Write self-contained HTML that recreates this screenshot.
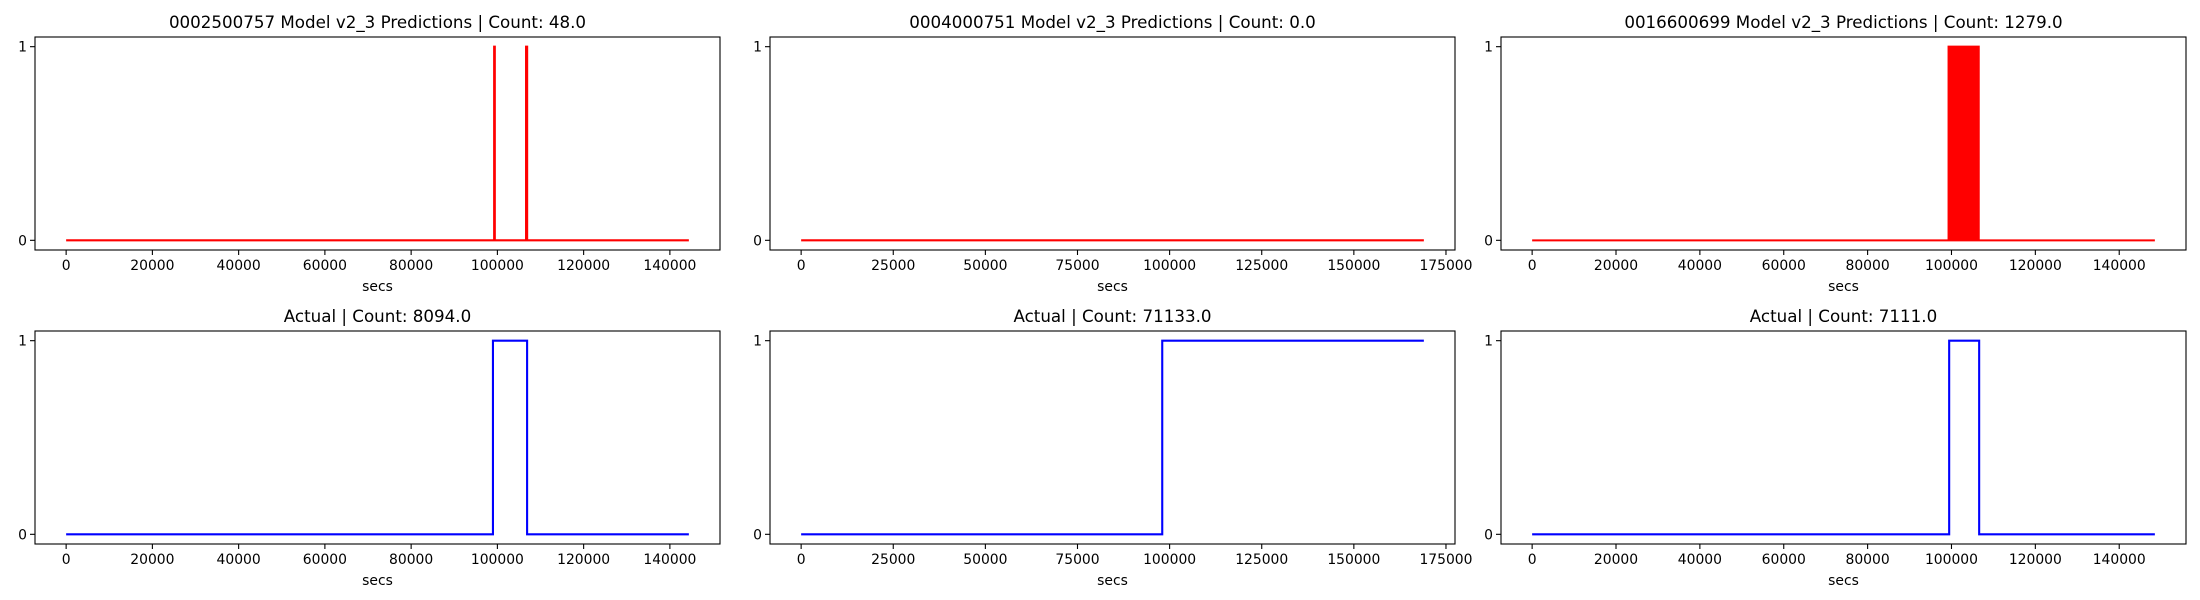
<!DOCTYPE html>
<html><head><meta charset="utf-8"><style>
html,body{margin:0;padding:0;background:#fff;}
svg{display:block;font-family:"DejaVu Sans","Liberation Sans",sans-serif;}
</style></head><body>
<svg id="fig" width="2200" height="600" viewBox="0 0 2200 600" xmlns="http://www.w3.org/2000/svg"></svg>
<script>
// ---- data ----
const titles = ["0002500757 Model v2_3 Predictions | Count: 48.0","0004000751 Model v2_3 Predictions | Count: 0.0","0016600699 Model v2_3 Predictions | Count: 1279.0",
"Actual | Count: 8094.0","Actual | Count: 71133.0","Actual | Count: 7111.0"];
const xMaxes = [144400, 169000, 148500];
const xTicks1 = [0,20000,40000,60000,80000,100000,120000,140000];
const xTicks2 = [0,25000,50000,75000,100000,125000,150000,175000];
const xTicks3 = [0,20000,40000,60000,80000,100000,120000,140000];
const yTicks = [0,1];
// step series: times and values
const pred1T = [0,99250,99250,99400,99400,106650,106650,106900,106900,144400];
const pred1V = [0,0,1,1,0,0,1,1,0,0];
const pred2T = [0,169000];
const pred2V = [0,0];
const pred3T = [0,99300,99300,106500,106500,148500];
const pred3V = [0,0,1,1,0,0];
const act1T = [0,98970,98970,106890,106890,144400];
const act1V = [0,0,1,1,0,0];
const act2T = [0,98000,98000,169000];
const act2V = [0,0,1,1];
const act3T = [0,99450,99450,106600,106600,148500];
const act3V = [0,0,1,1,0,0];

const NS="http://www.w3.org/2000/svg";
const svg=document.getElementById('fig');
function mk(tag,attrs,parent){const e=document.createElementNS(NS,tag);for(const k in attrs)e.setAttribute(k,attrs[k]);(parent||svg).appendChild(e);return e;}

const colL=[35,770,1501], W=685;
const rowT=[37,331], H=213;
const panels=[
 {c:0,r:0,t:pred1T,v:pred1V,col:'#ff0000',ticks:xTicks1,fill:false},
 {c:1,r:0,t:pred2T,v:pred2V,col:'#ff0000',ticks:xTicks2,fill:false},
 {c:2,r:0,t:pred3T,v:pred3V,col:'#ff0000',ticks:xTicks3,fill:true},
 {c:0,r:1,t:act1T,v:act1V,col:'#0000ff',ticks:xTicks1,fill:false},
 {c:1,r:1,t:act2T,v:act2V,col:'#0000ff',ticks:xTicks2,fill:false},
 {c:2,r:1,t:act3T,v:act3V,col:'#0000ff',ticks:xTicks3,fill:false}
];
panels.forEach((p,i)=>{
  const L=colL[p.c], T=rowT[p.r];
  const xmax=xMaxes[p.c], span=xmax*1.1, x0=-xmax*0.05;
  const X=v=>L+(v-x0)/span*W;
  const Y=v=>T+H-(v+0.05)/1.1*H;
  const g=mk('g',{});
  
  
  const title=mk('text',{x:L+W/2,y:T-9,'text-anchor':'middle','font-size':16.7,fill:'#000'},g);
  title.textContent=titles[i];
  
  
  let pts=p.t.map((t,k)=>X(t).toFixed(2)+','+Y(p.v[k]).toFixed(2)).join(' ');
  if(p.fill){
    const poly=mk('polygon',{points:pts,fill:p.col,stroke:p.col,'stroke-width':2},g);
    
    
  } else {
    const pl=mk('polyline',{points:pts,fill:'none',stroke:p.col,'stroke-width':2.1},g);
    
    
  }
  const fr=mk('rect',{x:L,y:T,width:W,height:H,fill:'none',stroke:'#000','stroke-width':1.1},g);
  
  
  p.ticks.forEach(tv=>{
    const x=X(tv);
    mk('line',{x1:x,x2:x,y1:T+H,y2:T+H+5,stroke:'#000','stroke-width':1.1},g);
    const tl=mk('text',{x:x,y:T+H+20,'text-anchor':'middle','font-size':13.9,fill:'#000'},g);
    tl.textContent=tv;
    
    
  });
  yTicks.forEach(tv=>{
    const y=Y(tv);
    mk('line',{x1:L-5,x2:L,y1:y,y2:y,stroke:'#000','stroke-width':1.1},g);
    const tl=mk('text',{x:L-8,y:y+5,'text-anchor':'end','font-size':13.9,fill:'#000'},g);
    tl.textContent=tv;
    
    
  });
  const xl=mk('text',{x:L+W/2,y:T+H+41,'text-anchor':'middle','font-size':13.9,fill:'#000'},g);
  xl.textContent='secs';
  
  
});
</script>
</body></html>
